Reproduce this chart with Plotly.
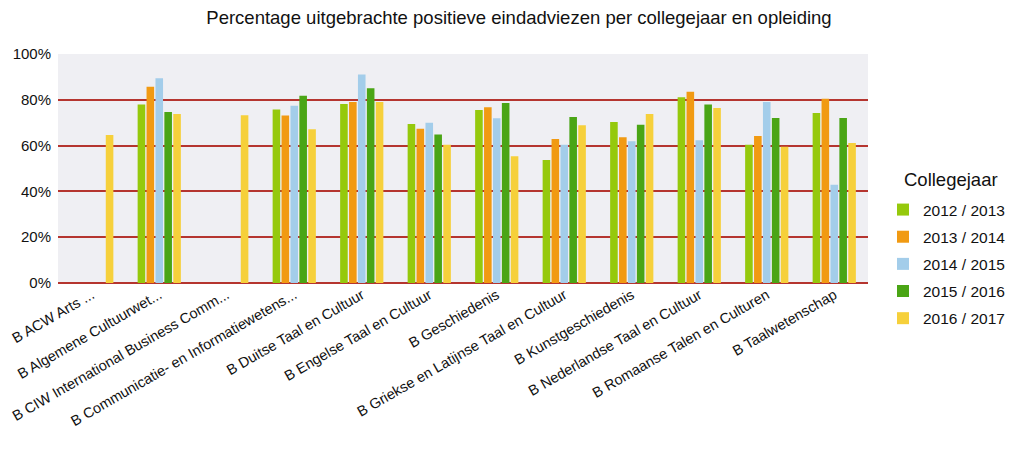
import plotly.graph_objects as go

# ── Data ──────────────────────────────────────────────────────────
opleidingen = [
    "B ACW Arts ...",
    "B Algemene Cultuurwet...",
    "B CIW International Business Comm...",
    "B Communicatie- en Informatiewetens...",
    "B Duitse Taal en Cultuur",
    "B Engelse Taal en Cultuur",
    "B Geschiedenis",
    "B Griekse en Latijnse Taal en Cultuur",
    "B Kunstgeschiedenis",
    "B Nederlandse Taal en Cultuur",
    "B Romaanse Talen en Culturen",
    "B Taalwetenschap",
]

jaren = ["2012 / 2013", "2013 / 2014", "2014 / 2015", "2015 / 2016", "2016 / 2017"]

v_2012 = [None, 78.0, None, 75.8, 78.2, 69.4, 75.5, 53.7, 70.3, 81.1, 60.4, 74.2]
v_2013 = [None, 85.7, None, 73.1, 79.0, 67.4, 76.7, 62.9, 63.6, 83.5, 64.2, 80.5]
v_2014 = [None, 89.4, None, 77.4, 91.1, 70.0, 71.9, 60.4, 61.9, 62.3, 79.0, 42.9]
v_2015 = [None, 74.7, None, 81.8, 85.0, 64.8, 78.6, 72.5, 69.1, 77.9, 72.0, 72.0]
v_2016 = [64.6, 73.8, 73.2, 67.1, 79.0, 60.4, 55.3, 68.9, 73.8, 76.4, 59.5, 61.1]

series = [v_2012, v_2013, v_2014, v_2015, v_2016]
colors = ["#95c90c", "#f19a12", "#a3cdea", "#4aa515", "#f6d03b"]

# page body has an 8px margin, so the figure is 16px smaller than the window
W, H = 1008, 440

# ── Chart ─────────────────────────────────────────────────────────
fig = go.Figure()
for naam, vals, kleur in zip(jaren, series, colors):
    fig.add_trace(go.Bar(
        x=opleidingen,
        y=vals,
        name=naam,
        legendgroup=naam,
        marker=dict(color=kleur, line=dict(width=0)),
        hovertemplate="%{x}: %{y:.1f}%<extra></extra>",
    ))

# legend title as a free annotation so it can sit left of the item text
fig.add_annotation(
    text="Collegejaar",
    xref="paper", yref="paper",
    x=(894 - 50) / 810, y=(275 - 171) / 229,
    xanchor="left", yanchor="middle",
    showarrow=False,
    font=dict(size=18.5, color="#111111"),
)

fig.update_layout(
    title=dict(
        text="Percentage uitgebrachte positieve eindadviezen per collegejaar en opleiding",
        x=511 / W, y=1 - 10 / H, xanchor="center", yanchor="middle",
        font=dict(size=18.5, color="#111111"),
    ),
    font=dict(family="Liberation Sans, Arial, sans-serif", color="#111111"),
    paper_bgcolor="white",
    plot_bgcolor="#efeff3",
    width=W,
    height=H,
    margin=dict(l=50, r=148, t=46, b=165, autoexpand=False),
    barmode="group",
    bargap=0.34,
    bargroupgap=0.15,
    showlegend=True,
    legend=dict(
        x=(875 - 50) / 810, y=(275 - 185) / 229, xanchor="left", yanchor="top",
        font=dict(size=15.5),
        itemsizing="constant",
        tracegroupgap=4,
    ),
    xaxis=dict(
        tickangle=-30,
        tickfont=dict(size=14.5),
        showgrid=False,
        automargin=False,
        ticks="",
    ),
    yaxis=dict(
        range=[0, 100],
        dtick=20,
        ticksuffix="%",
        tickfont=dict(size=15),
        ticklabelstandoff=6,
        gridcolor="#b5352f",
        gridwidth=1.5,
        zeroline=True,
        zerolinecolor="#b5352f",
        zerolinewidth=2,
        automargin=False,
        showline=False,
    ),
)

fig.write_html("out.html")
